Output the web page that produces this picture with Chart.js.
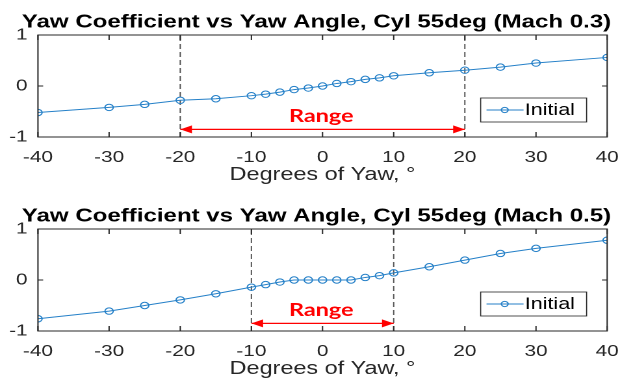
<!DOCTYPE html>
<html>
<head>
<meta charset="utf-8">
<script src="https://cdn.jsdelivr.net/npm/chart.js@4.4.1/dist/chart.umd.min.js"></script>
<style>
  html, body { margin: 0; padding: 0; background: #fff; overflow: hidden; }
  #page { position: relative; width: 633px; height: 387px; overflow: hidden; }
  /* the source figure was stretched sideways, so each panel is drawn narrow and widened */
  .panel { position: absolute; left: 0; width: 487px; height: 194px; transform-origin: 0 0; transform: scaleX(1.2998); }
</style>
</head>
<body>
<div id="page">
  <div class="panel" style="top:0"><canvas id="mach03"></canvas></div>
  <div class="panel" style="top:194px"><canvas id="mach05"></canvas></div>
</div>
<script>
// Yaw angles sampled in both runs (deg)
const yawAngles = [-40, -30, -25, -20, -15, -10, -8, -6, -4, -2, 0, 2, 4, 6, 8, 10, 15, 20, 25, 30, 40];
// Yaw coefficient, Mach 0.3
const cyMach03 = [-0.52, -0.42, -0.36, -0.28, -0.25, -0.19, -0.16, -0.12, -0.07, -0.04, 0.0, 0.05, 0.085, 0.13, 0.16, 0.2, 0.26, 0.31, 0.37, 0.45, 0.56];
// Yaw coefficient, Mach 0.5
const cyMach05 = [-0.76, -0.61, -0.50, -0.39, -0.27, -0.14, -0.09, -0.04, 0.0, 0.0, 0.0, 0.0, 0.0, 0.05, 0.085, 0.14, 0.26, 0.39, 0.52, 0.62, 0.78];
// linear range limits (deg)
const rangeMach03 = [-20, 20];
const rangeMach05 = [-10, 10];
const arrowLevel = -0.85;
const xTicks = [-40, -30, -20, -10, 0, 10, 20, 30, 40];
const yTicks = [-1, 0, 1];
const seriesName = 'Initial';
const rangeLabel = 'Range';
const titleMach03 = 'Yaw Coefficient vs Yaw Angle, Cyl 55deg (Mach 0.3)';
const titleMach05 = 'Yaw Coefficient vs Yaw Angle, Cyl 55deg (Mach 0.5)';
const xAxisTitle = 'Degrees of Yaw, \u00B0';

const AXIS = '#262626';
const BLUE = '#2580c8';
const FONT = "'Liberation Sans', Arial, sans-serif";

// box + inward tick marks, MATLAB style
const framePlugin = {
    id: 'frame',
    afterDraw(chart) {
        const { ctx, chartArea: a, scales } = chart;
        ctx.save();
        ctx.strokeStyle = AXIS;
        ctx.lineWidth = 1;
        ctx.strokeRect(a.left, a.top, a.right - a.left, a.bottom - a.top);
        ctx.beginPath();
        xTicks.forEach(v => {
            const px = scales.x.getPixelForValue(v);
            ctx.moveTo(px, a.top); ctx.lineTo(px, a.top + 5);
            ctx.moveTo(px, a.bottom); ctx.lineTo(px, a.bottom - 5);
        });
        yTicks.forEach(v => {
            const py = scales.y.getPixelForValue(v);
            ctx.moveTo(a.left, py); ctx.lineTo(a.left + 4, py);
            ctx.moveTo(a.right, py); ctx.lineTo(a.right - 4, py);
        });
        ctx.stroke();
        ctx.restore();
    }
};

// arrowheads and the "Range" label on the red arrow dataset
const rangePlugin = {
    id: 'rangeArrow',
    afterDatasetsDraw(chart) {
        const idx = chart.data.datasets.findIndex(d => d.isArrow);
        if (idx < 0) return;
        const pts = chart.getDatasetMeta(idx).data;
        const p0 = pts[0], p1 = pts[1];
        const ctx = chart.ctx;
        ctx.save();
        ctx.fillStyle = '#ff0000';
        ctx.beginPath();
        ctx.moveTo(p0.x, p0.y); ctx.lineTo(p0.x + 9, p0.y - 4); ctx.lineTo(p0.x + 9, p0.y + 4);
        ctx.closePath();
        ctx.moveTo(p1.x, p1.y); ctx.lineTo(p1.x - 9, p1.y - 4); ctx.lineTo(p1.x - 9, p1.y + 4);
        ctx.closePath();
        ctx.fill();
        ctx.font = "bold 18px Lato, 'Open Sans', sans-serif";
        ctx.textAlign = 'center';
        ctx.textBaseline = 'middle';
        ctx.fillText(rangeLabel, (p0.x + p1.x) / 2 - 1, p0.y - 13);
        ctx.restore();
    }
};

// small boxed legend in the lower right corner
const boxLegendPlugin = {
    id: 'boxLegend',
    afterDraw(chart) {
        const { ctx, chartArea: a } = chart;
        const ds = chart.data.datasets[0];
        const w = 81.5, h = 24;
        const x = a.right - 15.8 - w, y = a.bottom - 15 - h;
        ctx.save();
        ctx.fillStyle = '#fff';
        ctx.fillRect(x, y, w, h);
        ctx.strokeStyle = AXIS;
        ctx.lineWidth = 0.8;
        ctx.strokeRect(x, y, w, h);
        const my = y + h / 2;
        ctx.strokeStyle = ds.borderColor;
        ctx.lineWidth = 1;
        ctx.beginPath();
        ctx.moveTo(x + 4.5, my); ctx.lineTo(x + 33, my);
        ctx.stroke();
        ctx.beginPath();
        ctx.arc(x + 18.5, my, 2.6, 0, Math.PI * 2);
        ctx.stroke();
        ctx.fillStyle = '#000';
        ctx.font = '16.5px ' + FONT;
        ctx.textAlign = 'left';
        ctx.textBaseline = 'middle';
        ctx.fillText(ds.label, x + 34, my + 0.5);
        ctx.restore();
    }
};

function makeChart(canvasId, title, values, range) {
    const ctx = document.getElementById(canvasId).getContext('2d');
    const datasets = [{
        label: seriesName,
        data: yawAngles.map((x, i) => ({ x: x, y: values[i] })),
        borderColor: BLUE,
        backgroundColor: 'rgba(0,0,0,0)',
        borderWidth: 1,
        pointRadius: 3.2,
        pointBorderWidth: 1,
        pointBorderColor: BLUE,
        pointBackgroundColor: 'rgba(0,0,0,0)',
        showLine: true,
        tension: 0,
        order: 1
    }];
    range.forEach(r => {
        datasets.push({
            label: 'limit',
            data: [{ x: r, y: -1 }, { x: r, y: 1 }],
            borderColor: '#555',
            borderWidth: 1,
            borderDash: [5, 3],
            pointRadius: 0,
            showLine: true,
            order: 3
        });
    });
    datasets.push({
        label: 'range',
        isArrow: true,
        data: [{ x: range[0], y: arrowLevel }, { x: range[1], y: arrowLevel }],
        borderColor: '#ff0000',
        borderWidth: 1.3,
        pointRadius: 0,
        showLine: true,
        order: 2
    });

    return new Chart(ctx, {
        type: 'scatter',
        data: { datasets: datasets },
        options: {
            responsive: false,
            animation: false,
            devicePixelRatio: 2,
            layout: { padding: 0 },
            plugins: {
                legend: { display: false },
                tooltip: { enabled: false },
                title: {
                    display: true,
                    text: title,
                    color: '#000',
                    font: { family: FONT, size: 18.5, weight: 'bold' },
                    padding: { top: 11.5, bottom: 1.3 }
                }
            },
            scales: {
                x: {
                    type: 'linear',
                    min: -40,
                    max: 40,
                    afterBuildTicks: s => { s.ticks = xTicks.map(v => ({ value: v })); },
                    afterFit: s => { s.height = 57; },
                    grid: { display: false, drawTicks: false },
                    border: { display: false },
                    ticks: { color: AXIS, padding: 11, maxRotation: 0, font: { family: FONT, size: 16 } },
                    title: {
                        display: true,
                        text: xAxisTitle,
                        color: AXIS,
                        font: { family: FONT, size: 18 },
                        padding: { top: 0, bottom: 8 }
                    }
                },
                y: {
                    type: 'linear',
                    min: -1,
                    max: 1,
                    afterBuildTicks: s => { s.ticks = yTicks.map(v => ({ value: v })); },
                    afterFit: s => { s.width = 29.2; },
                    grid: { display: false, drawTicks: false },
                    border: { display: false },
                    ticks: { color: AXIS, padding: 8, font: { family: FONT, size: 16 } }
                },
                // empty spacer on the right so the title stays centred on the figure
                yRight: {
                    type: 'linear',
                    position: 'right',
                    afterFit: s => { s.width = 16.6; },
                    grid: { display: false, drawTicks: false },
                    border: { display: false },
                    ticks: { display: false }
                }
            }
        },
        plugins: [framePlugin, rangePlugin, boxLegendPlugin]
    });
}

document.getElementById('mach03').width = 487;
document.getElementById('mach03').height = 194;
document.getElementById('mach05').width = 487;
document.getElementById('mach05').height = 194;
makeChart('mach03', titleMach03, cyMach03, rangeMach03);
makeChart('mach05', titleMach05, cyMach05, rangeMach05);
</script>
</body>
</html>
